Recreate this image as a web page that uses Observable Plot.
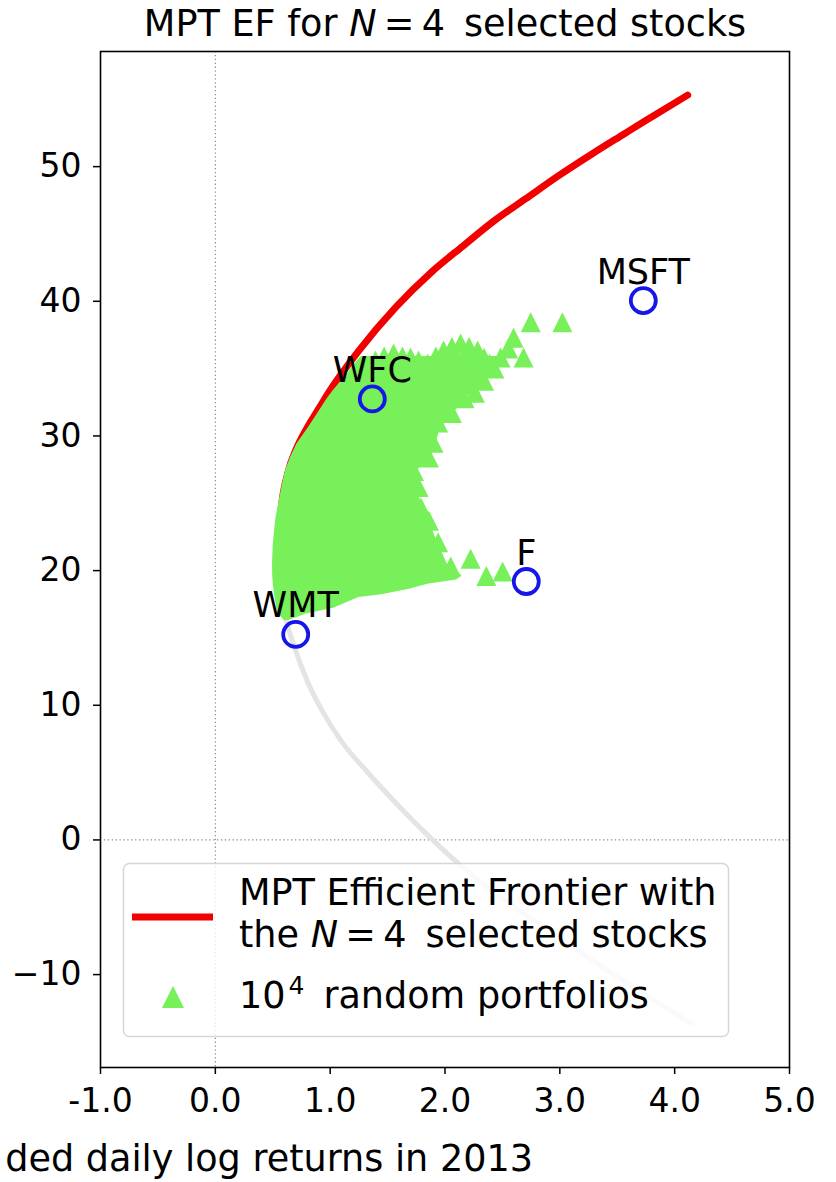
<!DOCTYPE html>
<html>
<head>
<meta charset="utf-8">
<script src="https://cdn.jsdelivr.net/npm/d3@7"></script>
<script src="https://cdn.jsdelivr.net/npm/@observablehq/plot@0.6"></script>
<style>
  html, body { margin: 0; padding: 0; background: #fff; }
  #chart { width: 836px; height: 1182px; overflow: hidden; }
</style>
</head>
<body>
<div id="chart"></div>
<script>
// Individual stocks (x, y)
const stockNames = ["WMT", "WFC", "F", "MSFT"];
const stockX = [0.70, 1.367, 2.708, 3.727];
const stockY = [15.26, 32.75, 19.19, 40.05];

// Efficient (upper) branch of the frontier
const effX = [0.54, 0.55, 0.575, 0.63, 0.71, 0.80, 0.906, 1.00, 1.25, 1.57, 1.88, 2.16, 2.43, 2.70, 2.99, 3.28, 3.56, 3.745, 4.113];
const effY = [20.8, 22.2, 24.7, 27.2, 29.13, 30.62, 32.1, 33.4, 36.34, 39.55, 42.15, 44.13, 45.99, 47.60, 49.33, 50.94, 52.43, 53.41, 55.31];

// Inefficient (lower) branch of the frontier
const lowX = [0.54, 0.56, 0.61, 0.69, 0.80, 0.93, 1.10, 1.32, 1.58, 1.88, 2.19, 3.07, 3.64, 4.14];
const lowY = [20.8, 18.5, 16.5, 14.3, 11.8, 9.6, 7.3, 5.08, 2.67, 0.10, -2.3, -7.7, -10.95, -13.6];

// Dense body of the random portfolios: at each level y, the span x1..x2 it fills
const cloudY  = [16.3, 16.8, 17.2, 18.0, 18.2, 18.6, 19.0, 19.3, 19.6, 20.5, 22.0, 23.7, 24.7, 26.2, 27.4, 28.4, 29.4, 30.6, 31.65, 32.84, 33.4, 34.1, 34.6, 35.1, 35.6, 35.9];
const cloudX1 = [0.60, 0.55, 0.535, 0.52, 0.515, 0.51, 0.505, 0.502, 0.50, 0.498, 0.505, 0.525, 0.545, 0.58, 0.61, 0.655, 0.71, 0.81, 0.89, 0.98, 1.03, 1.10, 1.15, 1.19, 1.24, 1.27];
const cloudX2 = [0.64, 0.80, 1.03, 1.25, 1.45, 1.68, 1.86, 2.10, 2.15, 2.02, 1.94, 1.86, 1.79, 1.77, 1.75, 1.88, 1.92, 1.96, 2.07, 2.18, 2.27, 2.35, 2.39, 2.44, 2.46, 2.46];

// Random portfolios on the ragged rim of the cloud
const rimX = [1.395, 1.47, 1.552, 1.63, 1.70, 1.77, 1.848, 1.92, 1.988, 2.06, 2.136, 2.21, 2.284, 2.34, 2.388, 2.484, 2.55, 2.597, 2.684,
              2.43, 2.34, 2.26, 2.17, 2.06, 1.94, 1.90, 1.86, 1.73, 1.77, 1.79, 1.86, 1.94,
              2.05, 2.223, 2.36, 2.502, 2.747, 3.022];
const rimY = [35.60, 35.9, 36.12, 35.9, 35.82, 35.6, 35.37, 35.9, 36.34, 36.6, 36.86, 36.6, 36.34, 35.8, 35.37, 35.82, 36.5, 37.30, 35.82,
              35.0, 34.1, 33.2, 32.8, 31.7, 31.0, 29.5, 28.4, 27.4, 26.2, 24.7, 23.7, 22.1,
              20.3, 20.88, 19.6, 19.93, 38.44, 38.44];

const xTicks = [-1, 0, 1, 2, 3, 4, 5];
const yTicks = [-10, 0, 10, 20, 30, 40, 50];

const stocks = stockNames.map((name, i) => ({name, x: stockX[i], y: stockY[i]}));
const eff = effX.map((x, i) => ({x, y: effY[i]}));
const low = lowX.map((x, i) => ({x, y: lowY[i]}));
const cloud = cloudY.map((y, i) => ({y, x1: cloudX1[i], x2: cloudX2[i]}));
const rim = rimX.map((x, i) => ({x, y: rimY[i]}));

const GREEN = "#77f05a";
const RED = "#f20000";
const BLUE = "#1616e8";
const FONT = "'DejaVu Sans', 'Liberation Sans', sans-serif";
const TEXT_SIZE = 36.6;

// Upward triangle as wide as it is tall, centred on its bounding box
const triangleUp = {
  draw(ctx, size) {
    const a = Math.sqrt(size / Math.PI);
    ctx.moveTo(0, -a);
    ctx.lineTo(a, a);
    ctx.lineTo(-a, a);
    ctx.closePath();
  }
};

const chart = Plot.plot({
  width: 836,
  height: 1182,
  marginLeft: 100,
  marginRight: 47,
  marginTop: 51,
  marginBottom: 115,
  style: {fontFamily: FONT, color: "black", background: "white"},
  x: {domain: [-1, 5]},
  y: {domain: [-16.9, 58.55]},
  marks: [
    Plot.ruleX([0], {stroke: "#8a8a8a", strokeWidth: 1.2, strokeDasharray: "1.3,2.6"}),
    Plot.ruleY([0], {stroke: "#8a8a8a", strokeWidth: 1.2, strokeDasharray: "1.3,2.6"}),
    Plot.line(low, {x: "x", y: "y", stroke: "#e4e4e4", strokeWidth: 5, curve: "monotone-x"}),
    Plot.line(eff, {x: "x", y: "y", stroke: RED, strokeWidth: 7, curve: "monotone-x"}),
    Plot.areaX(cloud, {y: "y", x1: "x1", x2: "x2", fill: GREEN}),
    Plot.dot(rim, {x: "x", y: "y", symbol: triangleUp, r: 10, fill: GREEN, stroke: null}),
    Plot.dot(stocks, {x: "x", y: "y", r: 12.5, stroke: BLUE, strokeWidth: 3.8, fill: "none"}),
    Plot.text(stocks, {x: "x", y: "y", text: "name", dy: -17, lineAnchor: "bottom", fontSize: 35, fill: "black"}),
    Plot.frame({stroke: "black", strokeWidth: 1.6}),
    Plot.axisX({ticks: xTicks, tickFormat: d => d.toFixed(1), tickSize: 7, tickPadding: 14, fontSize: 33, strokeWidth: 1.5, label: null}),
    Plot.axisY({ticks: yTicks, tickSize: 7, tickPadding: 12, fontSize: 33, strokeWidth: 1.5, label: null})
  ]
});

document.getElementById("chart").appendChild(chart);

const svg = d3.select(chart);

// Title
const title = svg.append("text")
  .attr("x", 445).attr("y", 36)
  .attr("text-anchor", "middle")
  .attr("font-family", FONT).attr("font-size", TEXT_SIZE).attr("fill", "black")
  .style("white-space", "pre");
title.append("tspan").text("MPT EF for ");
title.append("tspan").attr("font-style", "italic").text("N");
title.append("tspan").text("\u2009=\u20094\u2009 selected stocks");

// x-axis label
svg.append("text")
  .attr("x", 533).attr("y", 1171)
  .attr("text-anchor", "end")
  .attr("font-family", FONT).attr("font-size", 36.6).attr("fill", "black")
  .text("ded daily log returns in 2013");

// Legend
const legend = svg.append("g")
  .attr("font-family", FONT).attr("font-size", TEXT_SIZE).attr("fill", "black")
  .attr("text-anchor", "start");
legend.append("rect")
  .attr("x", 123.5).attr("y", 863.5).attr("width", 605).attr("height", 173).attr("rx", 6)
  .attr("fill", "white").attr("fill-opacity", 0.8)
  .attr("stroke", "#d6d6d6").attr("stroke-width", 1.5);
legend.append("line")
  .attr("x1", 132).attr("x2", 213).attr("y1", 917).attr("y2", 917)
  .attr("stroke", RED).attr("stroke-width", 7);
legend.append("text").attr("x", 239).attr("y", 905).text("MPT Efficient Frontier with");
const l2 = legend.append("text").attr("x", 239).attr("y", 947).style("white-space", "pre");
l2.append("tspan").text("the ");
l2.append("tspan").attr("font-style", "italic").text("N");
l2.append("tspan").text("\u2009=\u20094\u2009 selected stocks");
legend.append("path")
  .attr("d", d3.symbol(triangleUp, Math.PI * 11 * 11)())
  .attr("transform", "translate(173,997)")
  .attr("fill", GREEN);
const l3 = legend.append("text").attr("x", 239).attr("y", 1008).style("white-space", "pre");
l3.append("tspan").text("10");
l3.append("tspan").attr("font-size", 25).attr("dx", 3).attr("dy", -14).text("4");
l3.append("tspan").attr("dy", 14).text("\u2009 random portfolios");
</script>
</body>
</html>
